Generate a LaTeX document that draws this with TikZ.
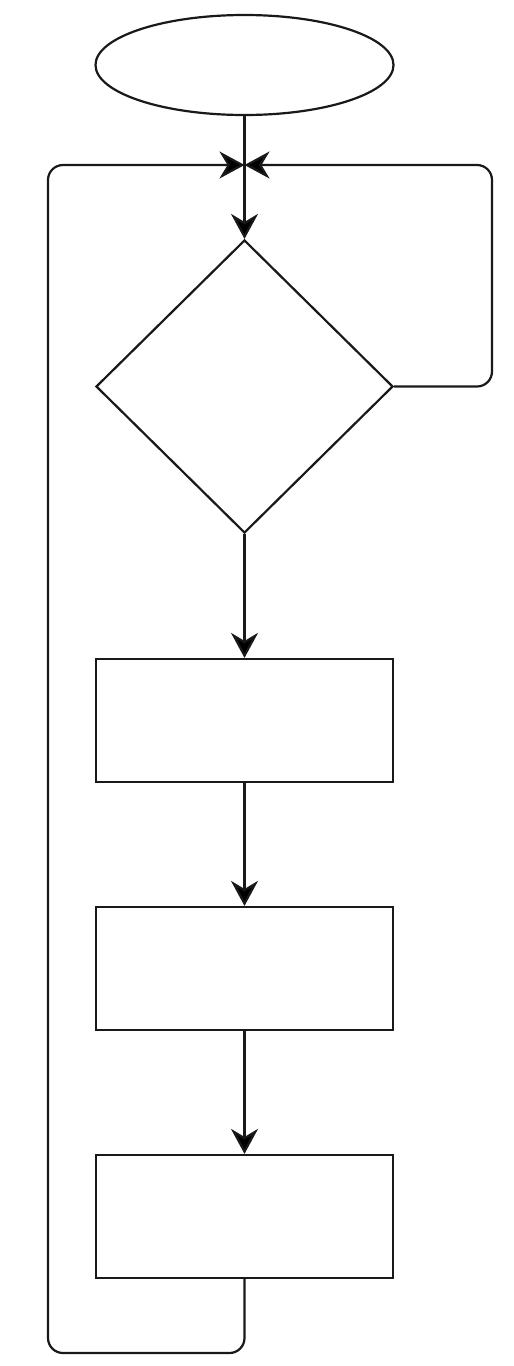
\documentclass[tikz,border=0pt]{standalone}
\usetikzlibrary{shapes.geometric,arrows.meta}
\begin{document}
\begin{tikzpicture}[x=1pt,y=-1pt,
  ln/.style={line width=2.2pt,draw=black!90},
  arr/.style={ln,-{Stealth[length=25pt,width=27pt,inset=8pt,fill=black]}},
  box/.style={ln,rectangle,minimum width=297pt,minimum height=123pt,inner sep=0pt},
  dec/.style={ln,diamond,minimum width=297pt,minimum height=293pt,inner sep=0pt},
  oval/.style={ln,ellipse,minimum width=298pt,minimum height=100pt,inner sep=0pt}]
\useasboundingbox[fill=white] (0,0) rectangle (514,1366);
\node[oval] (start) at (244.5,65) {};
\node[dec] (d) at (244.5,386.5) {};
\node[box] (r1) at (244.5,720.5) {};
\node[box] (r2) at (244.5,968.5) {};
\node[box] (r3) at (244.5,1216.5) {};
\coordinate (j) at (244.5,165);
\draw[arr] (start.south) -- (d.north);
\draw[arr] (d.south) -- (r1.north);
\draw[arr] (r1.south) -- (r2.north);
\draw[arr] (r2.south) -- (r3.north);
\draw[arr,rounded corners=15pt] (d.east) -- (492,386.5) -- (492,165) -- (j);
\draw[arr,rounded corners=15pt] (r3.south) -- (244.5,1353) -- (48,1353) -- (48,165) -- (j);
\end{tikzpicture}
\end{document}
